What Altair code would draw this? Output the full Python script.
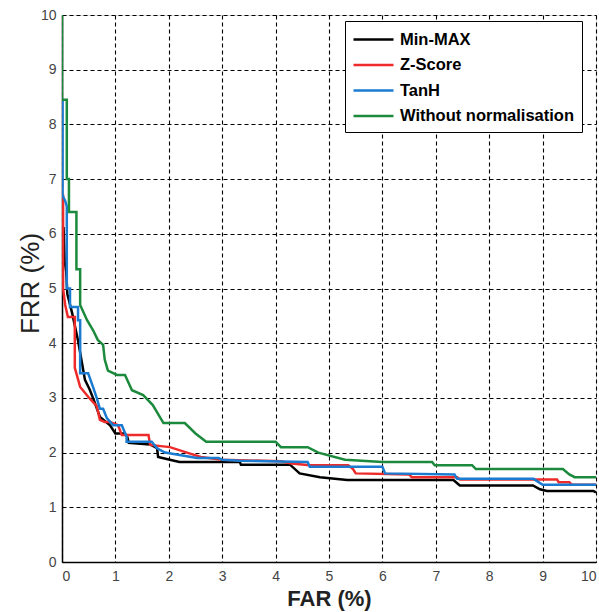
import altair as alt
import pandas as pd

series_names = ["Min-MAX", "Z-Score", "TanH", "Without normalisation"]
series_colors = ["#000000", "#ee2b2b", "#1b7bd0", "#1c8a3c"]

minmax_far = [0, 0.03, 0.05, 0.08, 0.1, 0.19, 0.3, 0.43, 0.52, 0.6, 0.71, 0.9, 1.0, 1.18, 1.22, 1.25, 1.65, 1.78, 1.8, 2.02, 2.2, 3.33, 3.35, 4.27, 4.45, 4.83, 5.34, 7.33, 7.45, 8.82, 8.95, 9.08, 9.95, 10]
minmax_frr = [6.1, 6.1, 5.5, 5.3, 4.9, 4.55, 4.05, 3.33, 3.15, 2.95, 2.65, 2.5, 2.35, 2.35, 2.3, 2.18, 2.15, 2.08, 1.92, 1.87, 1.83, 1.83, 1.78, 1.78, 1.62, 1.55, 1.5, 1.5, 1.4, 1.4, 1.33, 1.3, 1.3, 1.27]

zscore_far = [0, 0.02, 0.02, 0.06, 0.11, 0.24, 0.24, 0.34, 0.49, 0.65, 0.71, 0.8, 0.9, 1.05, 1.12, 1.62, 1.65, 2.02, 2.34, 2.6, 3.0, 4.1, 4.3, 4.64, 5.36, 5.45, 5.5, 6.5, 6.55, 7.4, 7.45, 9.27, 9.3, 9.5, 9.55, 10]
zscore_frr = [6.7, 6.7, 5.0, 4.7, 4.48, 4.48, 3.55, 3.2, 3.02, 2.85, 2.6, 2.56, 2.56, 2.5, 2.32, 2.32, 2.14, 2.1, 2.0, 1.92, 1.87, 1.84, 1.8, 1.77, 1.77, 1.7, 1.62, 1.6, 1.55, 1.55, 1.51, 1.51, 1.46, 1.46, 1.41, 1.41]

tanh_far = [0, 0.01, 0.01, 0.06, 0.09, 0.09, 0.15, 0.15, 0.3, 0.3, 0.34, 0.34, 0.49, 0.58, 0.65, 0.71, 0.77, 0.84, 0.96, 1.12, 1.21, 1.21, 1.68, 1.78, 1.93, 2.53, 2.93, 3.0, 3.33, 4.6, 4.64, 6.0, 6.05, 7.35, 7.4, 8.83, 9.0, 10]
tanh_frr = [8.45, 8.45, 6.7, 6.6, 6.5, 5.0, 5.0, 4.66, 4.66, 4.42, 4.42, 3.45, 3.45, 3.2, 3.0, 2.8, 2.8, 2.63, 2.5, 2.5, 2.29, 2.2, 2.2, 2.08, 2.0, 1.9, 1.9, 1.87, 1.85, 1.83, 1.74, 1.74, 1.62, 1.6, 1.52, 1.52, 1.41, 1.41]

nonorm_far = [0, 0, 0.09, 0.09, 0.13, 0.13, 0.27, 0.27, 0.34, 0.34, 0.47, 0.58, 0.67, 0.77, 0.8, 0.86, 1.03, 1.18, 1.31, 1.52, 1.7, 1.9, 2.3, 2.5, 2.7, 4.0, 4.1, 4.6, 4.8, 5.3, 6.0, 6.93, 6.98, 7.68, 7.75, 9.38, 9.5, 9.6, 10]
nonorm_frr = [10, 8.45, 8.45, 7.0, 7.0, 6.4, 6.4, 5.35, 5.35, 4.7, 4.42, 4.24, 4.06, 3.97, 3.7, 3.5, 3.42, 3.42, 3.14, 3.05, 2.87, 2.54, 2.54, 2.35, 2.2, 2.2, 2.1, 2.1, 2.0, 1.87, 1.83, 1.83, 1.77, 1.77, 1.7, 1.7, 1.6, 1.55, 1.55]

ticks = list(range(0, 11))

draw_order = {"Min-MAX": 0, "Z-Score": 1, "TanH": 2, "Without normalisation": 3}
rows = []
for name, xs, ys in [
    ("Min-MAX", minmax_far, minmax_frr),
    ("Z-Score", zscore_far, zscore_frr),
    ("TanH", tanh_far, tanh_frr),
    ("Without normalisation", nonorm_far, nonorm_frr),
]:
    for i, (a, b) in enumerate(zip(xs, ys)):
        rows.append({"series": name, "far": a, "frr": b, "idx": i, "z": draw_order[name]})
df = pd.DataFrame(rows)

font = "Liberation Sans"

chart = alt.Chart(df).mark_line(strokeWidth=2.5, strokeJoin="miter", clip=True).encode(
    x=alt.X("far:Q", scale=alt.Scale(domain=[0, 10], nice=False),
            axis=alt.Axis(values=ticks, title="FAR (%)", format="d",
                          grid=True, gridDash=[4, 3], gridColor="#000000", gridWidth=1.1, gridOpacity=1,
                          ticks=False, domainColor="#000000", domainWidth=1.5,
                          labelFont=font, labelFontSize=14, labelColor="#444444", labelPadding=7,
                          titleFont=font, titleFontSize=22, titleFontWeight="bold", titleColor="#222222",
                          titleX=267, titleY=36, titleBaseline="middle", titleAlign="center")),
    y=alt.Y("frr:Q", scale=alt.Scale(domain=[0, 10], nice=False),
            axis=alt.Axis(values=ticks, title="FRR (%)", format="d",
                          grid=True, gridDash=[4, 3], gridColor="#000000", gridWidth=1.1, gridOpacity=1,
                          ticks=False, domainColor="#000000", domainWidth=1.5,
                          labelFont=font, labelFontSize=14, labelColor="#444444", labelPadding=6,
                          titleFont=font, titleFontSize=26, titleFontWeight="normal", titleColor="#222222",
                          titleX=-32, titleY=268, titleAngle=270, titleBaseline="middle", titleAlign="center")),
    color=alt.Color("series:N",
                    scale=alt.Scale(domain=series_names, range=series_colors),
                    legend=alt.Legend(orient="none", legendX=283, legendY=6, title=None,
                                      symbolType="M-1,0H3", symbolSize=400, symbolStrokeWidth=2.5,
                                      labelFont=font, labelFontSize=16.5, labelFontWeight="bold",
                                      labelColor="#000000", labelOffset=25, rowPadding=5.5,
                                      padding=7, fillColor="#ffffff", strokeColor="#000000",
                                      labelLimit=300)),
    order=alt.Order("idx:Q"),
    detail="z:O",
).properties(
    width=534,
    height=547,
    autosize=alt.AutoSizeParams(type="none"),
    padding={"left": 62, "top": 15, "right": 3, "bottom": 50},
).configure_view(
    stroke="#000000", strokeWidth=1.5
).configure(background="#ffffff")

chart.save("out.html", embed_options={"renderer": "svg", "actions": False})
